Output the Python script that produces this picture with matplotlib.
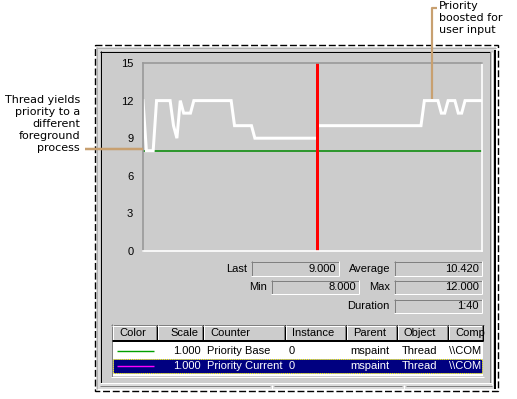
import numpy as np
import matplotlib
matplotlib.use('Agg')
import matplotlib.pyplot as plt
from matplotlib.patches import Rectangle

# ---- data ----
y_ticks = [0, 3, 6, 9, 12, 15]
# priority current, samples 0..51 (newest data, left of the red marker)
prio_left = [12, 8, 8, 8, 12, 12, 12, 12, 12, 10, 9, 12, 11, 11, 11,
             12, 12, 12, 12, 12, 12, 12, 12, 12, 12, 12, 12,
             10, 10, 10, 10, 10, 10,
             9, 9, 9, 9, 9, 9, 9, 9, 9, 9, 9, 9, 9, 9, 9, 9, 9, 9, 9]
# samples 52..100 (older data, right of the red marker)
prio_right = [10] * 31 + [12, 12, 12, 12, 12, 11, 11, 12, 12, 12, 11, 11,
                          12, 12, 12, 12, 12, 12]
prio_base = 8
now_marker = 51.3

stat_labels = ['Last', 'Average', 'Min', 'Max', 'Duration']
stat_values = ['9.000', '10.420', '8.000', '12.000', '1:40']

headers = ['Color', 'Scale', 'Counter', 'Instance', 'Parent', 'Object', 'Comp']
row_colors = ['#00a000', '#ff00ff']
row_scale = ['1.000', '1.000']
row_counter = ['Priority Base', 'Priority Current']
row_instance = ['0', '0']
row_parent = ['mspaint', 'mspaint']
row_object = ['Thread', 'Thread']
row_comp = ['\\\\COM', '\\\\COM']

W, H = 517, 399
GREY = '#cccccc'
DARK = '#808080'
TAN = '#c8a070'
UI_FONT = 'Liberation Sans'
PX = 0.72  # points per pixel at dpi 100

fig = plt.figure(figsize=(W / 100, H / 100), dpi=100)
fig.patch.set_facecolor('white')

# background "window" layer, in pixel coordinates
ui = fig.add_axes([0, 0, 1, 1], zorder=0)
ui.set_xlim(0, W)
ui.set_ylim(H, 0)
ui.axis('off')


def rect(x0, y0, x1, y1, fc, ec='none', lw=0, ls='-'):
    ui.add_patch(Rectangle((x0, y0), x1 - x0, y1 - y0, facecolor=fc,
                           edgecolor=ec, linewidth=lw, linestyle=ls))


def hl(x0, x1, y, c, w=1):
    ui.plot([x0, x1], [y, y], color=c, lw=w * PX, solid_capstyle='butt')


def vl(x, y0, y1, c, w=1):
    ui.plot([x, x], [y0, y1], color=c, lw=w * PX, solid_capstyle='butt')


def sunken(x0, y0, x1, y1, fc=GREY):
    rect(x0, y0, x1, y1, fc)
    hl(x0, x1, y0 + 0.5, DARK)
    vl(x0 + 0.5, y0, y1, DARK)
    hl(x0, x1, y1 - 0.5, 'white')
    vl(x1 - 0.5, y0, y1, 'white')


def txt(x, y, s, ha='left', color='black', fam=UI_FONT, size=8):
    ui.text(x, y, s, ha=ha, va='center', color=color, family=fam, fontsize=size)


# window frame
rect(96, 47, 496, 389, '#dcdcdc')
hl(96, 496, 47.5, '#b0b0b0')
vl(96.5, 47, 389, '#b0b0b0')
rect(100, 51, 494, 384, GREY)
hl(100, 490, 51.5, 'black')
vl(100.5, 51, 383, 'black')
vl(489.5, 52, 383, DARK)
vl(491.5, 52, 385, 'white')
vl(494.5, 50, 389, 'black', 2)
hl(100, 492, 382.5, 'white')
# status bar segments
hl(100, 270, 385.5, DARK)
hl(274, 402, 385.5, DARK)
hl(406, 492, 385.5, DARK)
for sx in (271.5, 403.5):
    vl(sx, 385, 389, 'white')
# dashed outline
rect(94.5, 44.5, 497.5, 390.5, 'none', ec='black', lw=1, ls=(0, (5, 2)))

# statistics boxes
stat_boxes = [(251, 261, 339, 276), (394, 261, 482, 276),
              (271, 280, 359, 294), (394, 280, 482, 294),
              (394, 299, 482, 313)]
for lab, val, (x0, y0, x1, y1) in zip(stat_labels, stat_values, stat_boxes):
    sunken(x0, y0, x1, y1)
    txt(x0 - 4, (y0 + y1) / 2, lab, ha='right')
    txt(x1 - 3, (y0 + y1) / 2, val, ha='right')

# counter list
col_edges = [112, 157, 203, 285, 346, 397, 448, 483]
rect(112, 325, 483, 376, 'white')
vl(111.5, 324, 377, DARK)
hl(111, 484, 324.5, DARK)
hl(111, 484, 376.5, 'white')
for i, h in enumerate(headers):
    x0, x1 = col_edges[i], col_edges[i + 1]
    rect(x0, 325, x1, 340, GREY)
    hl(x0, x1, 325.5, 'white')
    vl(x0 + 0.5, 325, 340, 'white')
    vl(x1 - 1.5, 325, 340, DARK)
    vl(x1 - 0.5, 325, 341, 'black')
    hl(x0, x1, 339.5, 'black')
    if h == 'Scale':
        txt(x1 - 5, 332.5, h, ha='right')
    else:
        txt(x0 + 7, 332.5, h)
hl(112, 483, 340.5, 'black')

row_y = [351, 366]
rect(113, 359, 482, 373, '#000080', ec='#ffff00', lw=0.7, ls=(0, (1, 1)))
for r in range(2):
    fg = 'black' if r == 0 else 'white'
    y = row_y[r]
    hl(117, 154, y, row_colors[r], 1.4)
    txt(201, y, row_scale[r], ha='right', color=fg)
    txt(207, y, row_counter[r], color=fg)
    txt(289, y, row_instance[r], color=fg)
    txt(350, y, row_parent[r], color=fg)
    txt(402, y, row_object[r], color=fg)
    txt(449, y, row_comp[r], color=fg)

# ---- the chart itself ----
L, T, R, B = 143, 63, 482, 251
ax = fig.add_axes([L / W, (H - B) / H, (R - L) / W, (B - T) / H], zorder=1)
ax.set_facecolor('none')
t_left = np.arange(len(prio_left))
t_right = np.arange(len(prio_left), len(prio_left) + len(prio_right))
t_all = np.arange(len(prio_left) + len(prio_right))

ax.plot(t_all, [prio_base] * len(t_all), color='#008800', lw=1.1)
ax.plot(t_left, prio_left, color='white', lw=3 * PX, solid_joinstyle='miter')
ax.plot(t_right, prio_right, color='white', lw=3 * PX, solid_joinstyle='miter')
ax.axvline(now_marker, color='#ff0000', lw=3 * PX)

ax.set_xlim(0, 100)
ax.set_ylim(0, 15)
ax.set_xticks([])
ax.set_yticks(y_ticks)
ax.set_yticklabels([str(v) for v in y_ticks], family=UI_FONT, fontsize=8)
ax.tick_params(axis='y', length=0, pad=7)
for side, c in (('top', '#999999'), ('left', '#999999'),
                ('right', 'white'), ('bottom', 'white')):
    ax.spines[side].set_color(c)
    ax.spines[side].set_linewidth(1.2)

# ---- callouts, drawn on top ----
ov = fig.add_axes([0, 0, 1, 1], zorder=3)
ov.set_xlim(0, W)
ov.set_ylim(H, 0)
ov.axis('off')
ov.set_facecolor('none')
ov.plot([85, 143], [149, 149], color=TAN, lw=2.5 * PX, solid_capstyle='butt')
ov.plot([437, 432, 432], [8, 8, 99], color=TAN, lw=2.2 * PX, solid_capstyle='butt')

left_note = ['Thread yields', 'priority to a', 'different', 'foreground', 'process']
for k, s in enumerate(left_note):
    ov.text(80, 100 + 12 * k, s, ha='right', va='center', family='DejaVu Sans', fontsize=8)
right_note = ['Priority', 'boosted for', 'user input']
for k, s in enumerate(right_note):
    ov.text(439, 6 + 12 * k, s, ha='left', va='center', family='DejaVu Sans', fontsize=8)

fig.savefig('out.png', dpi=100)
